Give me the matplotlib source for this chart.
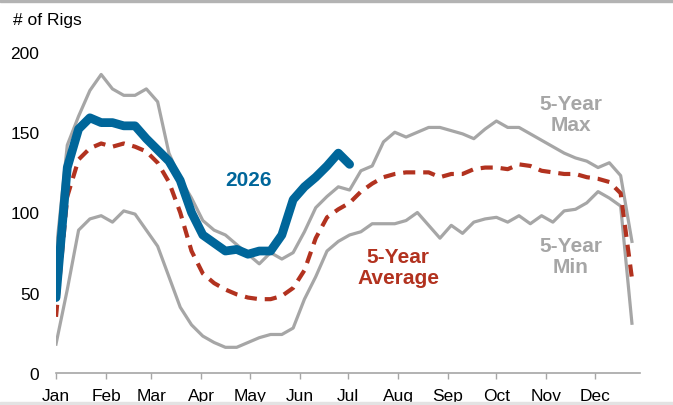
import numpy as np
import matplotlib
matplotlib.use('Agg')
import matplotlib.pyplot as plt

plt.rcParams['font.family'] = ['Liberation Sans', 'DejaVu Sans']

# weekly values (# of rigs), week 1 = first week of January
rigs_max = [75, 142, 160, 176, 186, 177, 173, 173, 177, 169, 137, 121, 109, 95, 89, 86,
            80, 74, 68, 75, 71, 75, 88, 103, 110, 116, 114, 126, 129, 144, 150, 147,
            150, 153, 153, 151, 149, 146, 152, 157, 153, 153, 149, 145, 141, 137, 134, 132,
            128, 131, 123, 82]
rigs_min = [18, 52, 89, 96, 98, 94, 101, 99, 89, 79, 60, 41, 30, 23, 19, 16,
            16, 19, 22, 24, 24, 28, 46, 60, 76, 82, 86, 88, 93, 93, 93, 95,
            100, 92, 84, 92, 87, 94, 96, 97, 94, 98, 93, 98, 94, 101, 102, 106,
            113, 109, 104, 31]
rigs_avg = [35, 110, 133, 140, 143, 141, 143, 141, 138, 131, 119, 100, 76, 62, 56, 52,
            49, 47, 46, 46, 48, 53, 64, 84, 97, 102, 106, 113, 118, 122, 124, 125,
            125, 125, 122, 124, 124, 127, 128, 128, 127, 130, 129, 126, 125, 124, 124, 122,
            121, 119, 112, 59]
rigs_2026 = [47, 128, 152, 159, 156, 156, 154, 154, 146, 139, 132, 120, 100, 86, 81, 76,
             77, 74, 76, 76, 86, 108, 116, 122, 129, 137, 130]

months = ['Jan', 'Feb', 'Mar', 'Apr', 'May', 'Jun', 'Jul', 'Aug', 'Sep', 'Oct', 'Nov', 'Dec']
month_start = [0, 31, 59, 90, 120, 151, 181, 212, 243, 273, 304, 334]

c_blue = '#00669a'
c_red = '#b2321f'
c_gray = '#a6a6a6'

day = np.arange(len(rigs_max)) * 7  # day of year for each week

fig = plt.figure(figsize=(6.73, 4.06), dpi=100)
ax = fig.add_axes([56/673, 1-374/406, 584/673, 321/406])

ax.plot(day, rigs_max, color=c_gray, lw=2.3, zorder=2)
ax.plot(day, rigs_min, color=c_gray, lw=2.3, zorder=2)
ax.plot(day, rigs_avg, color=c_red, lw=3, dashes=(2.9, 1.9), dash_capstyle='butt', zorder=3)
ax.plot(day[:len(rigs_2026)], rigs_2026, color=c_blue, lw=6.3, solid_capstyle='round',
        solid_joinstyle='round', zorder=4)

ax.set_xlim(0, 362)
ax.set_ylim(0, 200)
ax.set_yticks([0, 50, 100, 150, 200])
ax.set_xticks(month_start)
ax.set_xticklabels(months)

for s in ['top', 'right', 'left']:
    ax.spines[s].set_visible(False)
ax.spines['bottom'].set_color(c_gray)
ax.spines['bottom'].set_linewidth(1.2)
ax.tick_params(axis='y', length=0, pad=12, labelsize=12.5, colors='black')
ax.tick_params(axis='x', length=4, width=1, color=c_gray, pad=7, labelsize=12.5)

# labels
fig.text(13/673, 1-20/406, '# of Rigs', fontsize=12.5, va='center', ha='left')
lbl = dict(fontsize=15, fontweight='bold', ha='center', va='center', linespacing=1.1)
fig.text(248/673, 1-181/406, '2026', color=c_blue, **lbl)
fig.text(398/673, 1-268/406, '5-Year\nAverage', color=c_red, **lbl)
fig.text(571/673, 1-115/406, '5-Year\nMax', color=c_gray, **lbl)
fig.text(571/673, 1-257/406, '5-Year\nMin', color=c_gray, **lbl)

# frame bars of the screenshot
fig.patches.append(plt.Rectangle((0, 1-3/406), 1, 3/406, transform=fig.transFigure,
                                 color='#b3b3b3', zorder=0))
fig.patches.append(plt.Rectangle((0, 0), 1, 3/406, transform=fig.transFigure,
                                 color='#e3e3e3', zorder=0))

fig.savefig('out.png', dpi=100)
